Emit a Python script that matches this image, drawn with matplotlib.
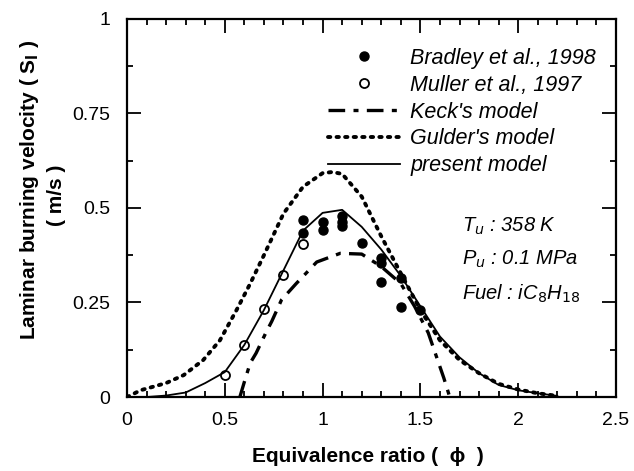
import numpy as np
import matplotlib.pyplot as plt
from matplotlib.ticker import MultipleLocator

plt.rcParams['font.family'] = ['Liberation Sans', 'DejaVu Sans']

# measured data
bradley_phi = [0.9, 0.9, 1.0, 1.0, 1.1, 1.1, 1.1, 1.2, 1.3, 1.3, 1.3, 1.4, 1.4, 1.5]
bradley_s = [0.468, 0.433, 0.463, 0.442, 0.478, 0.462, 0.452, 0.407, 0.367, 0.354, 0.305, 0.315, 0.238, 0.23]

muller_phi = [0.5, 0.6, 0.7, 0.8, 0.9]
muller_s = [0.058, 0.138, 0.232, 0.323, 0.404]

# model curves
keck_phi = [0.577, 0.6, 0.63, 0.66, 0.71, 0.74, 0.79, 0.865, 0.97, 1.09, 1.2, 1.3,
            1.4, 1.47, 1.54, 1.62, 1.65]
keck_s = [0.0, 0.04, 0.09, 0.116, 0.17, 0.20, 0.257, 0.30, 0.357, 0.38, 0.378, 0.345,
          0.30, 0.24, 0.17, 0.05, 0.0]

gulder_phi = [0.0, 0.07, 0.2, 0.29, 0.39, 0.475, 0.56, 0.63, 0.7, 0.8, 0.9, 1.0, 1.05,
              1.1, 1.2, 1.3, 1.4, 1.5, 1.6, 1.7, 1.8, 1.9, 2.0, 2.1, 2.2]
gulder_s = [0.0, 0.018, 0.037, 0.058, 0.098, 0.15, 0.23, 0.30, 0.375, 0.485, 0.556,
            0.592, 0.595, 0.59, 0.53, 0.425, 0.327, 0.23, 0.15, 0.098, 0.063, 0.035,
            0.02, 0.01, 0.003]

present_phi = [0.1, 0.2, 0.3, 0.4, 0.5, 0.6, 0.7, 0.8, 0.9, 1.0, 1.1, 1.2, 1.3, 1.4, 1.5,
               1.6, 1.7, 1.8, 1.9, 2.0, 2.1, 2.2]
present_s = [0.0, 0.004, 0.012, 0.037, 0.066, 0.138, 0.23, 0.335, 0.44, 0.487, 0.495, 0.45,
             0.39, 0.32, 0.24, 0.16, 0.105, 0.063, 0.032, 0.018, 0.01, 0.003]

fig = plt.figure(figsize=(6.34, 4.71), dpi=100)
ax = fig.add_axes([0.2003, 0.157, 0.7713, 0.803])

ax.plot(bradley_phi, bradley_s, 'o', color='black', ms=6.5, label='Bradley et al., 1998')
ax.plot(muller_phi, muller_s, 'o', mfc='white', mec='black', mew=1.3, ms=6.5,
        label='Muller et al., 1997')
ax.plot(keck_phi, keck_s, color='black', lw=2.4, dashes=(5, 2.5, 1.5, 2.5),
        label="Keck's model")
ax.plot(gulder_phi, gulder_s, color='black', lw=2.8, dashes=(0.6, 1.6),
        dash_capstyle='round', label="Gulder's model")
ax.plot(present_phi, present_s, color='black', lw=1.3, label='present model')

ax.set_xlim(0, 2.5)
ax.set_ylim(0, 1)
ax.xaxis.set_minor_locator(MultipleLocator(0.1))
ax.yaxis.set_minor_locator(MultipleLocator(0.125))
ax.set_xticks([0, 0.5, 1, 1.5, 2, 2.5], ['0', '0.5', '1', '1.5', '2', '2.5'])
ax.set_yticks([0, 0.25, 0.5, 0.75, 1], ['0', '0.25', '0.5', '0.75', '1'])
ax.tick_params(which='both', direction='in', top=True, right=True, labelsize=14, width=1.3)
ax.tick_params(which='major', length=10, pad=11)
ax.tick_params(which='minor', length=4.5)
ax.tick_params(axis='y', which='major', pad=12)
for s in ax.spines.values():
    s.set_linewidth(1.6)

lab = dict(fontsize=15, fontweight='bold', ha='center', va='center')
fig.text(368 / 634, 1 - 457 / 471, 'Equivalence ratio (  ϕ  )', **lab)
fig.text(30 / 634, 1 - 190 / 471, 'Laminar burning velocity ( S$_{\\mathbf{l}}$ )',
         rotation=90, **lab)
fig.text(57 / 634, 1 - 195 / 471, '( m/s )', rotation=90, **lab)

leg = ax.legend(loc='upper right', bbox_to_anchor=(0.99, 0.963), frameon=False,
                prop={'style': 'italic', 'size': 15.5}, handlelength=3.3,
                labelspacing=0.27, handletextpad=0.5, borderaxespad=0.3)

txt = dict(fontsize=14.5, style='italic', transform=ax.transAxes, va='baseline')
ax.text(0.685, 0.4365, r'T$_{\mathit{u}}$ : 358 K', **txt)
ax.text(0.685, 0.349, r'P$_{\mathit{u}}$ : 0.1 MPa', **txt)
ax.text(0.685, 0.257, r'Fuel : iC$_{\mathit{8}}$H$_{\mathit{18}}$', **txt)

fig.savefig('out.png', dpi=100)
